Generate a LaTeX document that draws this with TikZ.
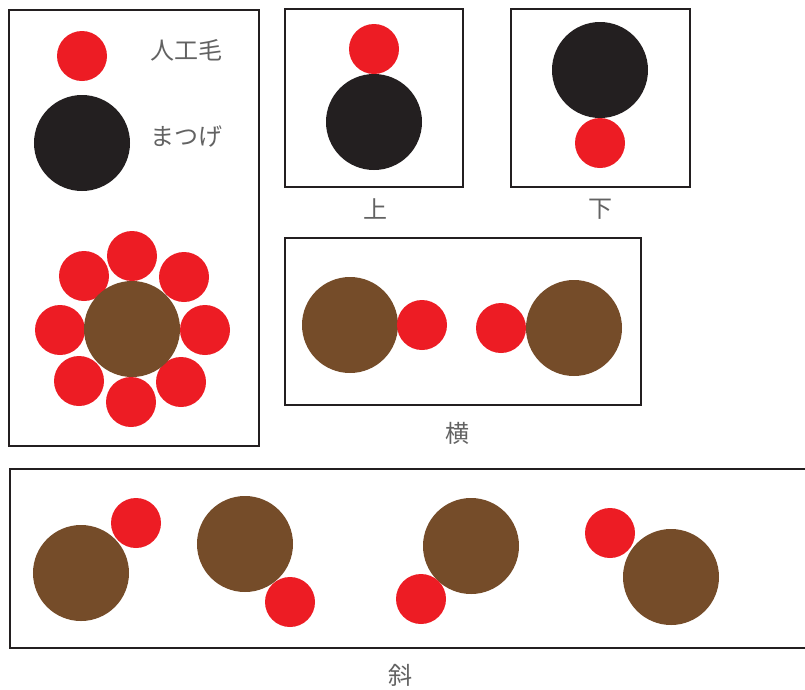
\documentclass[tikz,border=0pt]{standalone}
\usepackage{fontspec}
\newfontfamily\jpfont{Noto Sans CJK JP}[Scale=1]
\usetikzlibrary{positioning}

\definecolor{hairred}{HTML}{ED1C24}
\definecolor{lashblack}{HTML}{231F20}
\definecolor{lashbrown}{HTML}{754C29}
\definecolor{labelgray}{HTML}{626262}

\tikzset{
  fake/.style={circle, fill=hairred, minimum size=1.5cm, inner sep=0pt},
  lash/.style={circle, fill=lashblack, minimum size=2.88cm, inner sep=0pt},
  lashb/.style={lash, fill=lashbrown},
  frame/.style={draw=lashblack, line width=1.1pt},
  caption/.style={font=\jpfont\fontsize{20.5}{20.5}\selectfont\mdseries, text=labelgray, inner sep=0pt}
}

\begin{document}
\begin{tikzpicture}[x=0.03cm, y=-0.03cm]
  \useasboundingbox (0,0) rectangle (805,689);

  % legend box
  \draw[frame] (9,10) rectangle (259,446);
  \node[fake] (legfake) at (82,56) {};
  \node[lash] (leglash) at (82,143) {};
  \node[caption, anchor=west] (legfaketxt) at (150,50) {人工毛};
  \node[caption, anchor=west] (leglashtxt) at (150,137) {まつげ};
  \foreach \x/\y [count=\i] in {132/256, 184/277, 205/330, 181/382, 131/402, 79/381, 60/330, 84/276}
    \node[fake] (petal\i) at (\x,\y) {};
  \node[lashb] (center) at (132,329) {};

  % top
  \draw[frame] (285,9) rectangle (463,187);
  \node[fake] (upfake) at (374,49) {};
  \node[lash] (uplash) at (374,122) {};
  \node[caption] (uptxt) at (376,209) {上};

  % bottom
  \draw[frame] (511,9) rectangle (690,187);
  \node[lash] (downlash) at (600,70) {};
  \node[fake] (downfake) at (600,143) {};
  \node[caption] (downtxt) at (601,209) {下};

  % side
  \draw[frame, line width=1.7pt] (285,238) rectangle (641,405);
  \node[lashb] (sidelash1) at (350,325) {};
  \node[fake] (sidefake1) at (422,325) {};
  \node[fake] (sidefake2) at (501,328) {};
  \node[lashb] (sidelash2) at (574,328) {};
  \node[caption] (sidetxt) at (458,433) {横};

  % diagonal
  \draw[frame] (830,469) -- (10,469) -- (10,648) -- (830,648);
  \node[lashb] (diag1) at (81,573) {};
  \node[fake] (diagfake1) at (136,523) {};
  \node[lashb] (diag2) at (245,544) {};
  \node[fake] (diagfake2) at (290,602) {};
  \node[lashb] (diag3) at (471,546) {};
  \node[fake] (diagfake3) at (421,599) {};
  \node[fake] (diagfake4) at (610,533) {};
  \node[lashb] (diag4) at (671,577) {};
  \node[caption] (diagtxt) at (401,675) {斜};
\end{tikzpicture}
\end{document}
